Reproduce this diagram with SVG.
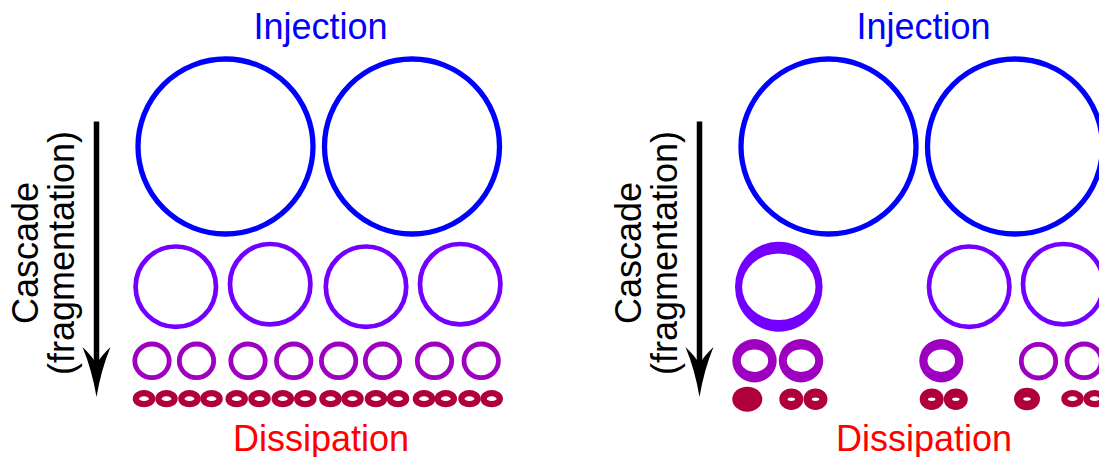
<svg xmlns="http://www.w3.org/2000/svg" width="1099" height="457" viewBox="0 0 1099 457">
<style>
text{font-family:"Liberation Sans",Arial,sans-serif;font-size:36px;text-anchor:middle}
.inj{fill:#0000ff}
.dis{fill:#ff0000}
.cas{fill:#000000}
.big{fill:none;stroke:#0000ff;stroke-width:5.3}
.med{fill:none;stroke:#7300ff;stroke-width:4.7}
.sml{fill:none;stroke:#9e00c0;stroke-width:4.8}
.tny{fill:none;stroke:#b0003c;stroke-width:6.3}
.medF{fill:#7300ff;fill-rule:evenodd}
.smlF{fill:#9e00c0;fill-rule:evenodd}
.tnyF{fill:#b0003c;fill-rule:evenodd}
.shaft{stroke:#000;stroke-width:5.5;fill:none}
.head{fill:#000}
</style>
<defs>
<path id="arrowHead" d="M0,397 Q4.5,370 14,347 Q4.5,356 0,364 Q-4.5,356 -14,347 Q-4.5,370 0,397 Z"/>
</defs>

<g id="left-panel">
  <g id="left-labels">
    <text class="inj" x="320.5" y="39">Injection</text>
    <text class="dis" x="321" y="450.5">Dissipation</text>
    <text class="cas" transform="translate(38,253) rotate(-90)">Cascade</text>
    <text class="cas" transform="translate(74,253) rotate(-90)">(fragmentation)</text>
  </g>
  <g id="left-arrow">
    <line class="shaft" x1="96.5" y1="121.5" x2="96.5" y2="366"/>
    <use href="#arrowHead" class="head" transform="translate(96.5,0)"/>
  </g>
  <g id="left-big">
    <circle class="big" cx="225.5" cy="146.5" r="87.5"/>
    <circle class="big" cx="412" cy="146.5" r="87.5"/>
  </g>
  <g id="left-medium">
    <circle class="med" cx="175.8" cy="286.7" r="40.2"/>
    <circle class="med" cx="270.2" cy="284.2" r="40.2"/>
    <circle class="med" cx="366" cy="286.7" r="40.2"/>
    <circle class="med" cx="460.2" cy="284.2" r="40.2"/>
  </g>
  <g id="left-small">
    <ellipse class="sml" cx="152" cy="360.8" rx="17.2" ry="16.8"/>
    <ellipse class="sml" cx="196.5" cy="360.8" rx="17.2" ry="16.8"/>
    <ellipse class="sml" cx="248" cy="360.8" rx="17.2" ry="16.8"/>
    <ellipse class="sml" cx="293.7" cy="360.8" rx="17.2" ry="16.8"/>
    <ellipse class="sml" cx="338.6" cy="360.8" rx="17.2" ry="16.8"/>
    <ellipse class="sml" cx="382.5" cy="360.8" rx="17.2" ry="16.8"/>
    <ellipse class="sml" cx="434.5" cy="360.8" rx="17.2" ry="16.8"/>
    <ellipse class="sml" cx="481.2" cy="360.8" rx="17.2" ry="16.8"/>
  </g>
  <g id="left-tiny">
    <ellipse class="tny" cx="144" cy="398.7" rx="8.1" ry="5.5"/>
    <ellipse class="tny" cx="166.5" cy="398.7" rx="8.1" ry="5.5"/>
    <ellipse class="tny" cx="189.5" cy="398.7" rx="8.1" ry="5.5"/>
    <ellipse class="tny" cx="211.5" cy="398.7" rx="8.1" ry="5.5"/>
    <ellipse class="tny" cx="236.7" cy="398.7" rx="8.1" ry="5.5"/>
    <ellipse class="tny" cx="259.5" cy="398.7" rx="8.1" ry="5.5"/>
    <ellipse class="tny" cx="282.8" cy="398.7" rx="8.1" ry="5.5"/>
    <ellipse class="tny" cx="305.3" cy="398.7" rx="8.1" ry="5.5"/>
    <ellipse class="tny" cx="330.5" cy="398.7" rx="8.1" ry="5.5"/>
    <ellipse class="tny" cx="352.5" cy="398.7" rx="8.1" ry="5.5"/>
    <ellipse class="tny" cx="376" cy="398.7" rx="8.1" ry="5.5"/>
    <ellipse class="tny" cx="398" cy="398.7" rx="8.1" ry="5.5"/>
    <ellipse class="tny" cx="424" cy="398.7" rx="8.1" ry="5.5"/>
    <ellipse class="tny" cx="445.8" cy="398.7" rx="8.1" ry="5.5"/>
    <ellipse class="tny" cx="469.5" cy="398.7" rx="8.1" ry="5.5"/>
    <ellipse class="tny" cx="491.7" cy="398.7" rx="8.1" ry="5.5"/>
  </g>
</g>

<g id="right-panel">
  <g id="right-labels">
    <text class="inj" x="923.5" y="39">Injection</text>
    <text class="dis" x="924" y="450.5">Dissipation</text>
    <text class="cas" transform="translate(641,253) rotate(-90)">Cascade</text>
    <text class="cas" transform="translate(677,253) rotate(-90)">(fragmentation)</text>
  </g>
  <g id="right-arrow">
    <line class="shaft" x1="699.5" y1="121.5" x2="699.5" y2="366"/>
    <use href="#arrowHead" class="head" transform="translate(699.5,0)"/>
  </g>
  <g id="right-big">
    <circle class="big" cx="828.5" cy="146.5" r="87.5"/>
    <circle class="big" cx="1015" cy="146.5" r="87.5"/>
  </g>
  <g id="right-medium">
    <path class="medF" d="M735,286.7 a43.8,45 0 1,0 87.6,0 a43.8,45 0 1,0 -87.6,0 Z M742.1,286.7 a36.7,33.3 0 1,0 73.4,0 a36.7,33.3 0 1,0 -73.4,0 Z"/>
    <circle class="med" cx="969.2" cy="286.7" r="40.2"/>
    <circle class="med" cx="1063.2" cy="284.2" r="40.2"/>
  </g>
  <g id="right-small">
    <path class="smlF" d="M732.3,360.7 a22.2,21.7 0 1,0 44.4,0 a22.2,21.7 0 1,0 -44.4,0 Z M740.8,360.7 a13.7,11.2 0 1,0 27.4,0 a13.7,11.2 0 1,0 -27.4,0 Z"/>
    <path class="smlF" d="M778.8,360.7 a22.2,21.7 0 1,0 44.4,0 a22.2,21.7 0 1,0 -44.4,0 Z M786.8,360.7 a14.2,11.2 0 1,0 28.4,0 a14.2,11.2 0 1,0 -28.4,0 Z"/>
    <path class="smlF" d="M919.3,360.7 a22,21.7 0 1,0 44,0 a22,21.7 0 1,0 -44,0 Z M927.5,360.7 a13.8,11.2 0 1,0 27.6,0 a13.8,11.2 0 1,0 -27.6,0 Z"/>
    <ellipse class="sml" cx="1038.5" cy="361.2" rx="17.2" ry="16.8"/>
    <ellipse class="sml" cx="1084.2" cy="360.8" rx="17.2" ry="16.8"/>
  </g>
  <g id="right-tiny">
    <ellipse class="tnyF" cx="747.3" cy="399.2" rx="15" ry="12.5"/>
    <path class="tnyF" d="M779.3,399.2 a12,10.8 0 1,0 24,0 a12,10.8 0 1,0 -24,0 Z M787.6,399.2 a3.7,1.7 0 1,0 7.4,0 a3.7,1.7 0 1,0 -7.4,0 Z"/>
    <path class="tnyF" d="M803.5,399.2 a12,10.8 0 1,0 24,0 a12,10.8 0 1,0 -24,0 Z M811.8,399.2 a3.7,1.7 0 1,0 7.4,0 a3.7,1.7 0 1,0 -7.4,0 Z"/>
    <path class="tnyF" d="M919.7,399.2 a12,10.8 0 1,0 24,0 a12,10.8 0 1,0 -24,0 Z M928,399.2 a3.7,1.7 0 1,0 7.4,0 a3.7,1.7 0 1,0 -7.4,0 Z"/>
    <path class="tnyF" d="M943.8,399.2 a12,10.8 0 1,0 24,0 a12,10.8 0 1,0 -24,0 Z M952.1,399.2 a3.7,1.7 0 1,0 7.4,0 a3.7,1.7 0 1,0 -7.4,0 Z"/>
    <path class="tnyF" d="M1014,399 a13,11.2 0 1,0 26,0 a13,11.2 0 1,0 -26,0 Z M1023.3,399 a3.7,1.7 0 1,0 7.4,0 a3.7,1.7 0 1,0 -7.4,0 Z"/>
    <ellipse class="tny" cx="1072.5" cy="398.7" rx="8.1" ry="5.5"/>
    <ellipse class="tny" cx="1094.7" cy="398.7" rx="8.1" ry="5.5"/>
  </g>
</g>
</svg>
